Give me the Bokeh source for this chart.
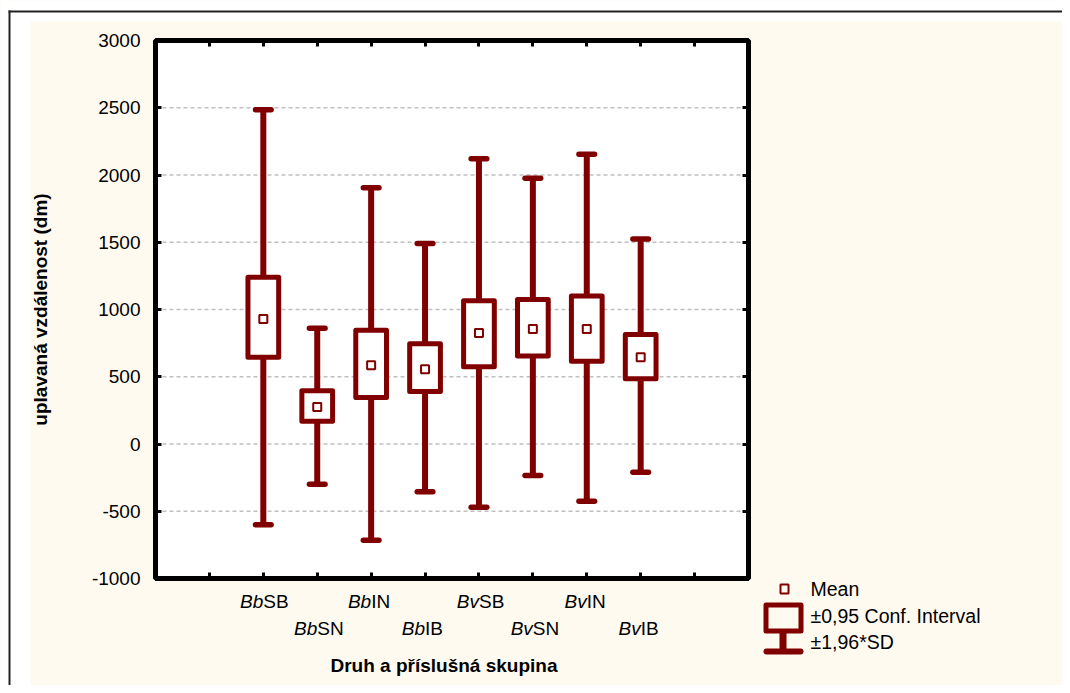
import math
from bokeh.plotting import figure
from bokeh.models import Range1d, FixedTicker, LinearAxis, Label, BoxAnnotation, ColumnDataSource
from bokeh.embed import file_html
from bokeh.resources import INLINE

# ---- data ----
species = ["Bb", "Bb", "Bb", "Bb", "Bv", "Bv", "Bv", "Bv"]
groups = ["SB", "SN", "IN", "IB", "SB", "SN", "IN", "IB"]
positions = [1, 2, 3, 4, 5, 6, 7, 8]
means = [930, 275, 585, 555, 825, 855, 855, 645]
ci_low = [645, 170, 345, 390, 575, 655, 615, 485]
ci_high = [1240, 395, 845, 745, 1065, 1075, 1100, 815]
sd_low = [-600, -300, -715, -355, -470, -235, -425, -210]
sd_high = [2485, 860, 1905, 1490, 2120, 1975, 2155, 1525]
y_ticks = [-1000, -500, 0, 500, 1000, 1500, 2000, 2500, 3000]
x_ticks = [0, 1, 2, 3, 4, 5, 6, 7, 8, 9]
legend_texts = ["Mean", "±0,95 Conf. Interval", "±1,96*SD"]
x_title = "Druh a příslušná skupina"
y_title = "uplavaná vzdálenost (dm)"

# axis limits of the plot box
X_LO, X_HI = -1, 10
Y_LO, Y_HI = -1000, 3000

MAROON = "#800000"
CREAM = "#FFFAF0"
FONT = "Liberation Sans"
FS = "19px"
FS_LEG = "19.5px"

# ---- geometry (pixels) ----
W, H = 1062, 685
BOX_L, BOX_R, BOX_T, BOX_B = 155, 748, 40, 578
PXU_X = (BOX_R - BOX_L) / (X_HI - X_LO)
PXU_Y = (BOX_B - BOX_T) / (Y_HI - Y_LO)
x_range = Range1d(X_LO - BOX_L / PXU_X, X_HI + (W - BOX_R) / PXU_X)
y_range = Range1d(Y_LO - (H - BOX_B) / PXU_Y, Y_HI + BOX_T / PXU_Y)

BOX_W = 0.57
CAP_HALF = 0.145

src = ColumnDataSource(dict(
    x=positions, mean=means, ci_lo=ci_low, ci_hi=ci_high, sd_lo=sd_low, sd_hi=sd_high,
    cap_l=[x - CAP_HALF for x in positions], cap_r=[x + CAP_HALF for x in positions],
))

p = figure(width=W, height=H, x_range=x_range, y_range=y_range,
           output_backend="svg", toolbar_location=None,
           min_border_left=0, min_border_right=0, min_border_top=0, min_border_bottom=0,
           background_fill_color=CREAM, border_fill_color=CREAM)
p.outline_line_color = None
p.xgrid.visible = False
p.ygrid.visible = False

def style_axis(ax):
    ax.axis_line_color = None
    ax.major_tick_in = 6
    ax.major_tick_out = 0
    ax.major_tick_line_width = 3
    ax.major_tick_line_color = "black"
    ax.minor_tick_line_color = None

yax = p.yaxis[0]
yax.fixed_location = X_LO
yax.ticker = FixedTicker(ticks=y_ticks)
style_axis(yax)
yax.major_label_overrides = {t: str(t) for t in y_ticks}
yax.major_label_text_font = FONT
yax.major_label_text_font_size = FS
yax.major_label_text_color = "black"
yax.major_label_standoff = 15

xax = p.xaxis[0]
xax.fixed_location = Y_LO
xax.ticker = FixedTicker(ticks=x_ticks)
style_axis(xax)
xax.major_label_overrides = {t: "" for t in x_ticks}
xax.major_label_standoff = 0

ra = LinearAxis(fixed_location=X_HI, ticker=FixedTicker(ticks=y_ticks),
                major_label_overrides={t: "" for t in y_ticks}, major_label_standoff=0)
style_axis(ra)
p.add_layout(ra, "right")
ta = LinearAxis(fixed_location=Y_HI, ticker=FixedTicker(ticks=x_ticks),
                major_label_overrides={t: "" for t in x_ticks}, major_label_standoff=0)
style_axis(ta)
p.add_layout(ta, "above")

# ---- plot box, grid, marks ----
p.quad(left=X_LO, right=X_HI, bottom=Y_LO, top=Y_HI, fill_color="white", line_color=None)
grid_ticks = [t for t in y_ticks if Y_LO < t < Y_HI]
p.segment(x0=[X_LO] * len(grid_ticks), x1=[X_HI] * len(grid_ticks), y0=grid_ticks, y1=grid_ticks,
          line_color="#c0c0c0", line_width=1.5, line_dash="4 3")

p.segment(x0="x", y0="sd_lo", x1="x", y1="sd_hi", source=src, line_color=MAROON, line_width=6)
p.segment(x0="cap_l", y0="sd_hi", x1="cap_r", y1="sd_hi", source=src, line_color=MAROON,
          line_width=5.5, line_cap="round")
p.segment(x0="cap_l", y0="sd_lo", x1="cap_r", y1="sd_lo", source=src, line_color=MAROON,
          line_width=5.5, line_cap="round")
p.vbar(x="x", width=BOX_W, bottom="ci_lo", top="ci_hi", source=src, fill_color="white",
       line_color=MAROON, line_width=5, line_join="round")
p.scatter(x="x", y="mean", source=src, marker="square", size=8, fill_color="white",
          line_color=MAROON, line_width=2)

p.quad(left=X_LO, right=X_HI, bottom=Y_LO, top=Y_HI, fill_color=None, line_color="black",
       line_width=5)

# ---- screen helpers: page px -> frame-relative screen units (frame == canvas) ----
def sx(px): return px
def sy(py): return H - py

def sbox(l, r, t, b, fill=None, line=None, lw=1, **kw):
    p.add_layout(BoxAnnotation(left=sx(l), right=sx(r), top=sy(t), bottom=sy(b),
                               left_units="screen", right_units="screen",
                               top_units="screen", bottom_units="screen",
                               fill_color=fill, fill_alpha=1,
                               line_color=line, line_alpha=1, line_width=lw, **kw))

# outer white margin and thin frame line
sbox(0, 30, 0, H + 10, fill="white")
sbox(0, W + 10, 0, 21, fill="white")
sbox(8, 10, 10, H + 10, fill="#222222")
sbox(8, W + 10, 10, 12, fill="#222222")

# axis titles
p.add_layout(Label(x=(X_LO + X_HI) / 2, y=sy(665), x_units="data", y_units="screen",
                   x_offset=-8,
                   text=x_title, text_font=FONT, text_font_size=FS, text_font_style="bold",
                   text_align="center", text_baseline="middle", text_color="black"))
p.add_layout(Label(x=sx(40), y=(Y_LO + Y_HI) / 2, x_units="screen", y_units="data",
                   text=y_title, angle=math.pi / 2, text_font=FONT, text_font_size=FS,
                   text_font_style="bold", text_align="center", text_baseline="middle",
                   text_color="black"))

# category labels (italic species + upright group)
for i, (sp, gr, x) in enumerate(zip(species, groups, positions)):
    yy = sy(601) if i % 2 == 0 else sy(628)
    p.add_layout(Label(x=x, y=yy, x_units="data", y_units="screen", text=sp,
                       text_font=FONT, text_font_size=FS, text_font_style="italic",
                       text_align="right", text_baseline="middle", text_color="black"))
    p.add_layout(Label(x=x, y=yy, x_units="data", y_units="screen", text=gr,
                       text_font=FONT, text_font_size=FS, text_font_style="normal",
                       text_align="left", text_baseline="middle", text_color="black"))

# legend
sbox(780, 788, 584, 593, line=MAROON, lw=2)
sbox(779, 786, 630, 651, fill=MAROON)
sbox(765.5, 800.5, 604.5, 630.5, fill=CREAM, line=MAROON, lw=5, line_join="round")
sbox(763, 803, 648, 654, fill=MAROON, border_radius=3)
for txt, py in zip(legend_texts, [588, 615, 641]):
    p.add_layout(Label(x=sx(810), y=sy(py), x_units="screen", y_units="screen", text=txt,
                       text_font=FONT, text_font_size=FS_LEG, text_align="left",
                       text_baseline="middle", text_color="black"))

open("out.html", "w").write(file_html(p, INLINE))
